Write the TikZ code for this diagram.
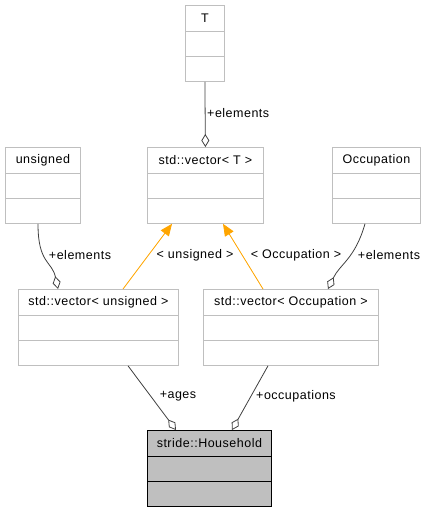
\documentclass[tikz,border=0pt]{standalone}
\usepackage{fontspec}
\setmainfont[LetterSpace=4]{Liberation Sans}
\usetikzlibrary{arrows.meta,calc}
\definecolor{amber}{HTML}{FFA500}
\definecolor{edgegray}{HTML}{404040}
\definecolor{boxgray}{HTML}{BFBFBF}
\tikzset{
  clsbox/.style={draw=boxgray, line width=0.8pt, fill=white, inner sep=0pt},
  clsboxline/.style={draw=boxgray, line width=0.8pt},
  hhbox/.style={draw=black, line width=0.8pt, fill=boxgray, inner sep=0pt},
  hhboxline/.style={draw=black, line width=0.8pt},
  ttl/.style={font=\fontsize{12.5}{14}\selectfont, inner sep=0pt},
  lbl/.style={font=\fontsize{12.5}{14}\selectfont, inner sep=0pt},
  agg/.style={draw=edgegray, line width=0.8pt, -{Diamond[open,length=13pt,width=8pt,line width=0.8pt]}},
  inh/.style={draw=amber, line width=0.8pt, -{Triangle[length=12pt,width=10pt]}, fill=amber}
}
\newcommand\umlcls[5][clsbox]{%
  \node[#1, anchor=north west, minimum width=#4, minimum height=76] (#2) at #3 {};
  \node[ttl] (#2t) at ($(#2.north)+(0,13)$) {#5};
  \draw[#1line] ($(#2.north west)+(0,26)$) -- ($(#2.north east)+(0,26)$);
  \draw[#1line] ($(#2.north west)+(0,51)$) -- ($(#2.north east)+(0,51)$);
}
\begin{document}
\begin{tikzpicture}[x=1pt,y=-1pt]
\useasboundingbox (0,0) rectangle (425,512);
\umlcls{T}{(185,5)}{39}{T}
\umlcls{vecT}{(147,147)}{116}{std::vector< T >}
\umlcls{unsig}{(5,147)}{75}{unsigned}
\umlcls{occ}{(332,147)}{88}{Occupation}
\umlcls{vecU}{(18,289)}{160}{std::vector< unsigned >}
\umlcls{vecO}{(203,289)}{175}{std::vector< Occupation >}
\umlcls[hhbox]{house}{(147,430)}{124}{stride::Household}

% aggregation T -> vector<T>
\draw[agg] (T.south) -- (vecT.north);
\node[lbl, anchor=west] (l1) at (207,113) {+elements};

% unsigned -> vector<unsigned>
\coordinate (u1) at ($(unsig.south west)+(33,0)$);
\coordinate (u2) at ($(vecU.north west)+(40,0)$);
\draw[agg] (u1) .. controls ($(u1)+(0,40)$) and ($(u2)+(-6,-28)$) .. (u2);
\node[lbl] (l2) at (80,255) {+elements};

% Occupation -> vector<Occupation>
\coordinate (o1) at ($(occ.south west)+(33,0)$);
\coordinate (o2) at ($(vecO.north west)+(125,0)$);
\draw[agg] (o1) .. controls ($(o1)+(-10,35)$) and ($(o2)+(12,-25)$) .. (o2);
\node[lbl] (l3) at (389,255) {+elements};

% inheritance
\coordinate (a1) at ($(vecU.north west)+(105,0)$);
\coordinate (a2) at ($(vecT.south west)+(25,0)$);
\draw[inh] (a1) -- (a2);
\node[lbl] (l4) at (195,255) {< unsigned >};
\coordinate (b1) at ($(vecO.north west)+(60,0)$);
\coordinate (b2) at ($(vecT.south west)+(76,0)$);
\draw[inh] (b1) -- (b2);
\node[lbl] (l5) at (296,255) {< Occupation >};

% members of Household
\coordinate (c1) at ($(vecU.south west)+(110,0)$);
\coordinate (c2) at ($(house.north west)+(29,0)$);
\draw[agg] (c1) -- (c2);
\node[lbl] (l6) at (178,396) {+ages};
\coordinate (d1) at ($(vecO.south west)+(65,0)$);
\coordinate (d2) at ($(house.north west)+(85,0)$);
\draw[agg] (d1) -- (d2);
\node[lbl] (l7) at (296,396) {+occupations};
\end{tikzpicture}
\end{document}
